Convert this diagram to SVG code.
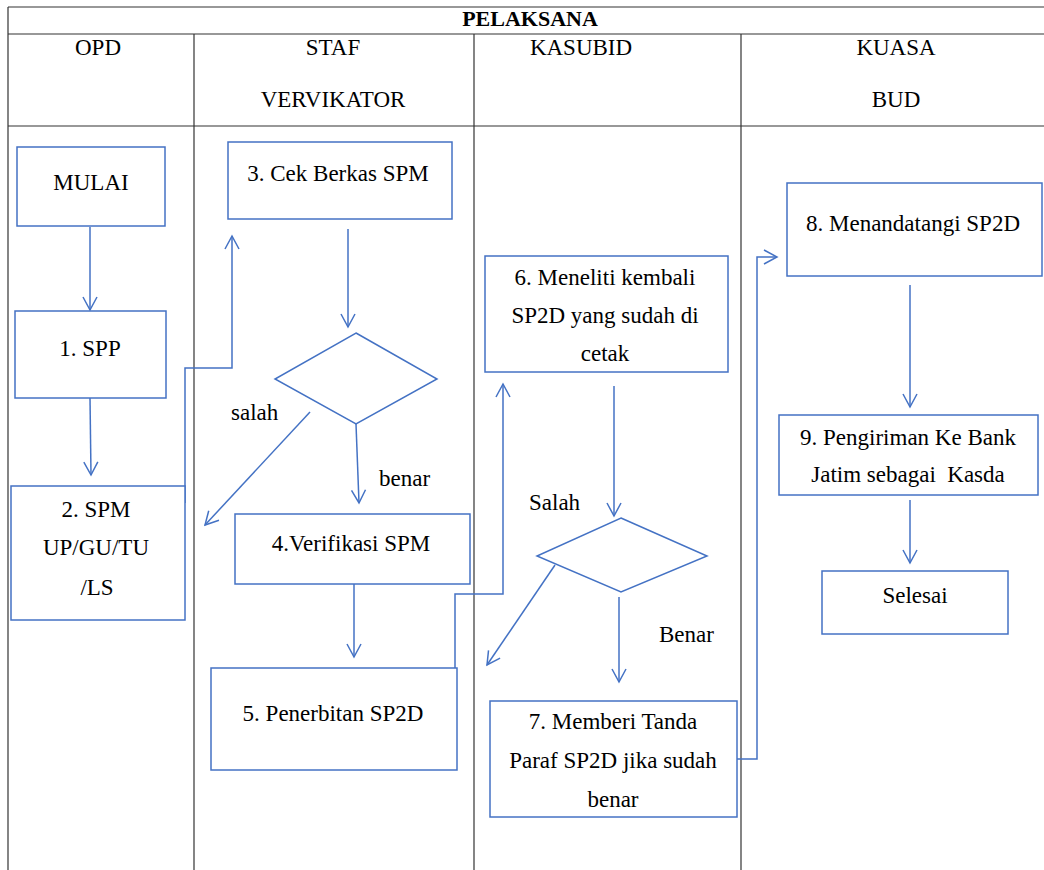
<svg xmlns="http://www.w3.org/2000/svg" width="1044" height="870" viewBox="0 0 1044 870" font-family="'Liberation Serif', 'DejaVu Serif', serif">
<style>
  .grid { stroke: #333; stroke-width: 1.2; fill: none; }
  .box { fill: #fff; stroke: #4472C4; stroke-width: 1.5; }
  .conn { fill: none; stroke: #4472C4; stroke-width: 1.5; }
  text { font-family: 'Liberation Serif', 'DejaVu Serif', serif; font-size: 23px; fill: #000; }
  .c { text-anchor: middle; }
  .hdr { font-weight: bold; font-size: 22px; }
</style>
<defs>
  <marker id="arr" viewBox="-15 -9 17 18" refX="0" refY="0" markerWidth="17" markerHeight="18" markerUnits="userSpaceOnUse" orient="auto">
    <path d="M-13,-7 L0,0 L-13,7" fill="none" stroke="#4472C4" stroke-width="1.5"/>
  </marker>
</defs>
<rect x="0" y="0" width="1044" height="870" fill="#fff"/>
<g id="table">
  <line class="grid" x1="8" y1="7" x2="1044" y2="7"/>
  <line class="grid" x1="8" y1="34" x2="1044" y2="34"/>
  <line class="grid" x1="8" y1="126" x2="1044" y2="126"/>
  <line class="grid" x1="8" y1="7" x2="8" y2="870"/>
  <line class="grid" x1="194" y1="34" x2="194" y2="870"/>
  <line class="grid" x1="474" y1="34" x2="474" y2="870"/>
  <line class="grid" x1="741" y1="34" x2="741" y2="870"/>
  <text class="c hdr" x="530" y="26">PELAKSANA</text>
  <text class="c" x="98" y="55">OPD</text>
  <text class="c" x="333" y="55">STAF</text>
  <text class="c" x="333" y="107">VERVIKATOR</text>
  <text class="c" x="581" y="55">KASUBID</text>
  <text class="c" x="896" y="55">KUASA</text>
  <text class="c" x="896" y="107">BUD</text>
</g>
<g id="connectors">
  <line class="conn" x1="90" y1="227" x2="90" y2="310" marker-end="url(#arr)"/>
  <line class="conn" x1="90" y1="398" x2="91" y2="475" marker-end="url(#arr)"/>
  <path class="conn" d="M185,503 V368 H232 V236" marker-end="url(#arr)"/>
  <line class="conn" x1="348" y1="229" x2="348" y2="327" marker-end="url(#arr)"/>
  <line class="conn" x1="310" y1="412" x2="205" y2="525" marker-end="url(#arr)"/>
  <line class="conn" x1="356" y1="424" x2="359" y2="503" marker-end="url(#arr)"/>
  <line class="conn" x1="354" y1="582" x2="354" y2="657" marker-end="url(#arr)"/>
  <path class="conn" d="M455,737 V594 H503 V384" marker-end="url(#arr)"/>
  <line class="conn" x1="614" y1="386" x2="614" y2="516" marker-end="url(#arr)"/>
  <line class="conn" x1="555" y1="565" x2="487" y2="665" marker-end="url(#arr)"/>
  <line class="conn" x1="619" y1="597" x2="619" y2="682" marker-end="url(#arr)"/>
  <path class="conn" d="M737,759 H757 V257 H777" marker-end="url(#arr)"/>
  <line class="conn" x1="910" y1="285" x2="910" y2="407" marker-end="url(#arr)"/>
  <line class="conn" x1="910" y1="500" x2="910" y2="563" marker-end="url(#arr)"/>
</g>
<g id="mulai">
  <rect class="box" x="17" y="147" width="148" height="79"/>
  <text class="c" x="91" y="190">MULAI</text>
</g>
<g id="spp">
  <rect class="box" x="15" y="311" width="151" height="87"/>
  <text class="c" x="90" y="356">1. SPP</text>
</g>
<g id="spm">
  <rect class="box" x="11" y="486" width="174" height="134"/>
  <text class="c" x="96" y="517">2. SPM</text>
  <text class="c" x="96" y="555">UP/GU/TU</text>
  <text class="c" x="97" y="595">/LS</text>
</g>
<g id="cek">
  <rect class="box" x="228" y="142" width="224" height="77"/>
  <text class="c" x="338" y="181">3. Cek Berkas SPM</text>
</g>
<g id="decision1">
  <polygon class="box" points="356,333 437,379 356,424 275,379"/>
  <text x="231" y="420">salah</text>
  <text x="379" y="486">benar</text>
</g>
<g id="verifikasi">
  <rect class="box" x="235" y="514" width="235" height="70"/>
  <text class="c" x="351" y="551">4.Verifikasi SPM</text>
</g>
<g id="penerbitan">
  <rect class="box" x="211" y="668" width="246" height="102"/>
  <text class="c" x="333" y="721">5. Penerbitan SP2D</text>
</g>
<g id="meneliti">
  <rect class="box" x="485" y="256" width="243" height="116"/>
  <text class="c" x="605" y="285">6. Meneliti kembali</text>
  <text class="c" x="605" y="323">SP2D yang sudah di</text>
  <text class="c" x="605" y="361">cetak</text>
</g>
<g id="decision2">
  <polygon class="box" points="621,518 707,556 621,592 537,556"/>
  <text x="529" y="510">Salah</text>
  <text x="659" y="642">Benar</text>
</g>
<g id="paraf">
  <rect class="box" x="490" y="701" width="247" height="116"/>
  <text class="c" x="613" y="729">7. Memberi Tanda</text>
  <text class="c" x="613" y="768">Paraf SP2D jika sudah</text>
  <text class="c" x="613" y="807">benar</text>
</g>
<g id="menandatangi">
  <rect class="box" x="787" y="183" width="255" height="93"/>
  <text class="c" x="913" y="231">8. Menandatangi SP2D</text>
</g>
<g id="pengiriman">
  <rect class="box" x="779" y="415" width="259" height="80"/>
  <text class="c" x="908" y="445">9. Pengiriman Ke Bank</text>
  <text class="c" x="908" y="482" xml:space="preserve" style="white-space:pre">Jatim sebagai  Kasda</text>
</g>
<g id="selesai">
  <rect class="box" x="822" y="571" width="186" height="63"/>
  <text class="c" x="915" y="603">Selesai</text>
</g>
</svg>
